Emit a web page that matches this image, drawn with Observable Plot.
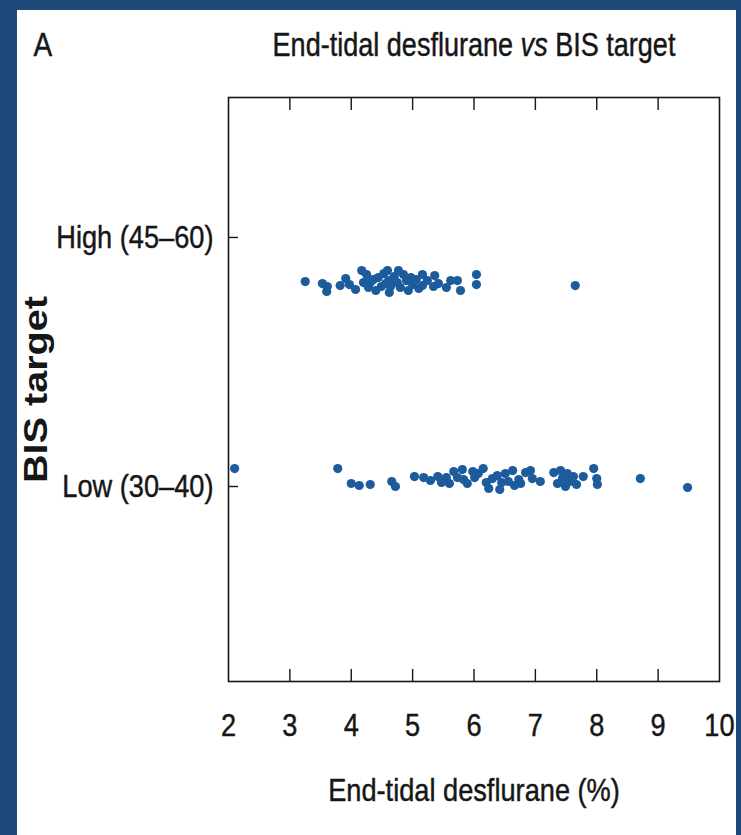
<!DOCTYPE html>
<html>
<head>
<meta charset="utf-8">
<script src="https://cdn.jsdelivr.net/npm/d3@7"></script>
<script src="https://cdn.jsdelivr.net/npm/@observablehq/plot@0.6"></script>
<style>
  html, body { margin: 0; padding: 0; }
  body { width: 741px; height: 835px; background: #1e4a7b; position: relative; overflow: hidden; }
  #panel { position: absolute; left: 17px; top: 10px; width: 719px; height: 825px; background: #ffffff; }
</style>
</head>
<body>
<div id="panel"></div>
<script>
const categories = ["Low (30–40)", "High (45–60)"];
const xTicks = [2, 3, 4, 5, 6, 7, 8, 9, 10];

// End-tidal desflurane (%) for the High BIS target group
const highDesflurane = [3.25, 3.53, 3.61, 3.60, 3.82, 3.91, 3.97, 4.07, 4.17, 4.25, 4.31, 4.36, 4.40, 4.44, 4.49, 4.53, 4.59, 4.61, 4.64, 4.62, 4.70, 4.75, 4.80, 4.85, 4.90, 4.97, 5.00, 5.06, 5.10, 5.16, 5.16, 5.24, 5.36, 5.34, 5.42, 5.55, 5.62, 5.73, 5.78, 6.04, 6.04, 7.65, 4.28, 4.56, 4.77, 4.93, 4.20];
// vertical jitter (category units) for the High group
const highJitter = [-0.177, -0.185, -0.197, -0.217, -0.193, -0.165, -0.189, -0.209, -0.133, -0.149, -0.181, -0.169, -0.213, -0.161, -0.197, -0.145, -0.133, -0.173, -0.197, -0.221, -0.157, -0.181, -0.201, -0.149, -0.173, -0.161, -0.189, -0.169, -0.205, -0.193, -0.149, -0.173, -0.153, -0.197, -0.185, -0.201, -0.173, -0.173, -0.213, -0.149, -0.189, -0.193, -0.201, -0.185, -0.133, -0.213, -0.181];

// End-tidal desflurane (%) for the Low BIS target group
const lowDesflurane = [2.10, 3.78, 4.00, 4.13, 4.31, 4.66, 4.72, 5.03, 5.18, 5.29, 5.41, 5.47, 5.55, 5.60, 5.67, 5.73, 5.81, 5.83, 5.89, 5.98, 6.01, 6.07, 6.15, 6.20, 6.24, 6.30, 6.38, 6.42, 6.45, 6.51, 6.56, 6.63, 6.66, 6.73, 6.76, 6.84, 6.92, 6.95, 7.08, 7.30, 7.36, 7.41, 7.44, 7.49, 7.52, 7.56, 7.62, 7.67, 7.78, 7.95, 8.00, 8.01, 8.71, 9.48];
// vertical jitter (category units) for the Low group
const lowJitter = [0.072, 0.072, 0.012, 0.004, 0.008, 0.020, 0.000, 0.040, 0.036, 0.024, 0.040, 0.016, 0.036, 0.012, 0.060, 0.036, 0.068, 0.028, 0.012, 0.060, 0.036, 0.052, 0.072, 0.016, -0.008, 0.032, 0.044, -0.012, 0.016, 0.052, 0.020, 0.064, 0.004, 0.028, 0.012, 0.056, 0.064, 0.032, 0.020, 0.056, 0.012, 0.064, 0.032, 0.000, 0.052, 0.020, 0.040, 0.008, 0.040, 0.072, 0.032, 0.008, 0.032, -0.004];

const rows = [
  ...lowDesflurane.map((d, i) => ({target: categories[0], x: d, y: 1 + lowJitter[i]})),
  ...highDesflurane.map((d, i) => ({target: categories[1], x: d, y: 2 + highJitter[i]}))
];

const FONT = "'Liberation Sans', Arial, Helvetica, sans-serif";
const FS = 32;
const ink = "#161616";

const chart = Plot.plot({
  width: 719,
  height: 825,
  marginLeft: 211,
  marginRight: 17,
  marginTop: 87,
  marginBottom: 154,
  style: {fontFamily: FONT, fontSize: FS + "px", color: ink, background: "transparent"},
  x: {domain: [2, 10]},
  y: {domain: [0.217, 2.562]},
  marks: [
    Plot.frame({stroke: ink, strokeWidth: 1.6}),
    // inward ticks, bottom and top
    Plot.axisX({anchor: "bottom", ticks: xTicks.slice(1, -1), tickSize: -12, tickFormat: () => "", label: null, strokeWidth: 1.4}),
    Plot.axisX({anchor: "top", ticks: xTicks.slice(1, -1), tickSize: -12, tickFormat: () => "", label: null, strokeWidth: 1.4}),
    // tick labels
    Plot.axisX({anchor: "bottom", ticks: xTicks, tickSize: 0, tickPadding: 32, label: null, fontSize: FS, className: "narrow"}),
    // inward y ticks and labels
    Plot.axisY({anchor: "left", ticks: [1, 2], tickSize: -10, tickFormat: () => "", label: null, strokeWidth: 1.4}),
    Plot.axisY({anchor: "left", ticks: [1, 2], tickSize: 0, tickPadding: 15, tickFormat: (d) => categories[d - 1], label: null, fontSize: FS, className: "narrow"}),
    Plot.dot(rows, {x: "x", y: "y", r: 4.6, fill: "#1d5c9c", stroke: "none"}),
    Plot.text(["End-tidal desflurane vs BIS target"], {frameAnchor: "top", dy: -52, lineAnchor: "middle", fontSize: FS + 1, text: d => d, className: "title-text"}),
    Plot.text(["A"], {frameAnchor: "top-left", dx: -195, dy: -52, textAnchor: "start", lineAnchor: "middle", fontSize: FS + 1, text: d => d, className: "narrow"}),
    Plot.text(["End-tidal desflurane (%)"], {frameAnchor: "bottom", dy: 109, lineAnchor: "middle", fontSize: FS, text: d => d, className: "narrow"}),
    Plot.text(["BIS target"], {frameAnchor: "left", dx: -192, rotate: -90, textAnchor: "middle", lineAnchor: "middle", fontSize: 33, fontWeight: "bold", text: d => d, className: "ylab-text"})
  ]
});

// italic "vs" in title
const t = d3.select(chart).select(".title-text text");
if (!t.empty()) {
  t.text(null);
  t.append("tspan").text("End-tidal desflurane ");
  t.append("tspan").attr("font-style", "italic").text("vs");
  t.append("tspan").text(" BIS target");
}

// condense glyphs horizontally around each text's anchor (Helvetica Condensed look)
function squeeze(sel, s) {
  sel.each(function () {
    const tr = this.getAttribute("transform") || "";
    const x = +(this.getAttribute("x") || 0);
    this.setAttribute("transform", `${tr} translate(${x},0) scale(${s},1) translate(${-x},0)`);
  });
}
squeeze(d3.select(chart).selectAll(".narrow text"), 0.85);
squeeze(d3.select(chart).selectAll(".title-text text"), 0.82);
squeeze(d3.select(chart).selectAll(".ylab-text text"), 1.2);
// slightly heavier strokes, as in the printed figure
d3.select(chart).selectAll(".narrow text, .title-text text")
  .attr("stroke", ink).attr("stroke-width", 0.45).attr("paint-order", "stroke");

document.getElementById("panel").appendChild(chart);
</script>
</body>
</html>
